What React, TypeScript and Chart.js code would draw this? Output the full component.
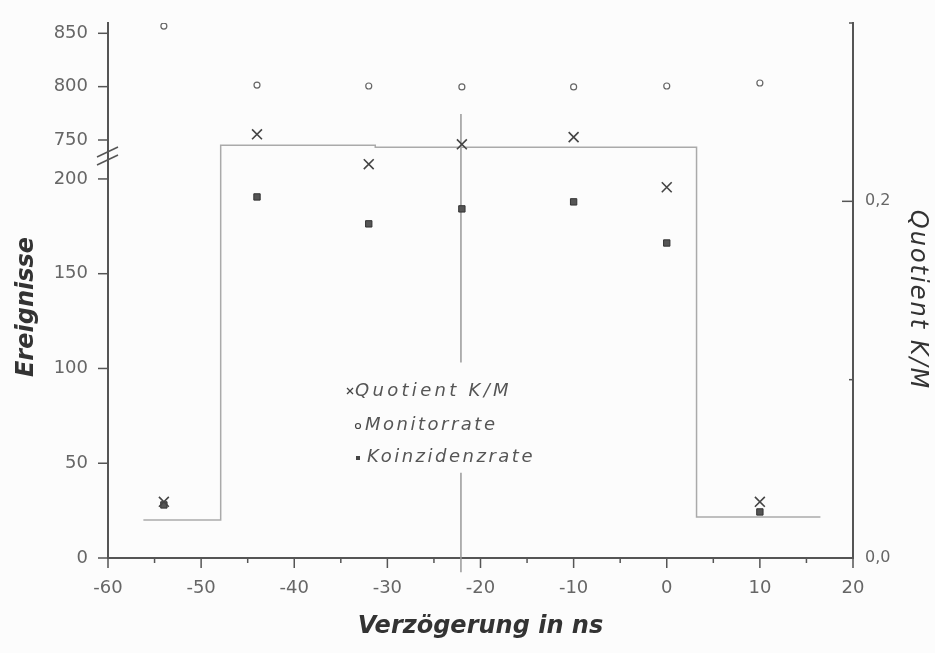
import React, { useEffect, useRef } from 'react';
import { Chart, registerables } from 'chart.js';

Chart.register(...registerables);

// ---- data ----
const DELAYS = [-54, -44, -32, -22, -10, 0, 10];
const MONITORRATE = [856.8, 801.5, 800.6, 799.7, 799.7, 800.6, 803.4];
const KOINZIDENZRATE = [28, 190.5, 176.3, 184.2, 187.9, 166.2, 24.3];
const QUOTIENT = [0.0315, 0.2376, 0.2208, 0.232, 0.236, 0.2079, 0.0315];

const WINDOW_X = [-56.2, -47.9, -47.9, -31.3, -31.3, 3.2, 3.2, 16.5];
const WINDOW_Y = [0.0213, 0.0213, 0.2315, 0.2315, 0.2303, 0.2303, 0.023, 0.023];

const MARKER_X = -22.1;
const MARKER_Y: (number | null)[] = [0.249, 0.1096, null, 0.0478, -0.008];

const X_TICKS = [-60, -50, -40, -30, -20, -10, 0, 10, 20];
const X_MINOR = [-55, -45, -35, -25, -15, -5, 5, 15];
const LOW_TICKS = [0, 50, 100, 150, 200];
const HIGH_TICKS = [750, 800, 850];
const RIGHT_TICKS = [0, 0.2];
const RIGHT_MINOR = [0.1, 0.3];

const X_TITLE = 'Verzögerung in ns';
const Y_TITLE = 'Ereignisse';
const R_TITLE = 'Quotient K/M';
const LEGEND_LABELS = ['Quotient K/M', 'Monitorrate', 'Koinzidenzrate'];

const AXIS = '#555';
const TICK_TEXT = '#666';
const TITLE = '#333';

const zeroPad = (s: any) => {
  s.paddingTop = 0;
  s.paddingBottom = 0;
  s.paddingLeft = 0;
  s.paddingRight = 0;
};

const decor = {
  id: 'decor',
  afterDraw(chart: any) {
    const ctx = chart.ctx as CanvasRenderingContext2D;
    const { x, yLow, yHigh, yR } = chart.scales;
    const ca = chart.chartArea;
    const line = (x1: number, y1: number, x2: number, y2: number) => {
      ctx.beginPath();
      ctx.moveTo(x1, y1);
      ctx.lineTo(x2, y2);
      ctx.stroke();
    };
    ctx.save();
    ctx.strokeStyle = AXIS;
    ctx.lineWidth = 1.5;
    X_TICKS.forEach((v) => { const p = x.getPixelForValue(v); line(p, ca.bottom, p, ca.bottom + 10); });
    X_MINOR.forEach((v) => { const p = x.getPixelForValue(v); line(p, ca.bottom, p, ca.bottom + 5); });
    LOW_TICKS.forEach((v) => { const p = yLow.getPixelForValue(v); line(ca.left - 10, p, ca.left, p); });
    HIGH_TICKS.forEach((v) => { const p = yHigh.getPixelForValue(v); line(ca.left - 10, p, ca.left, p); });
    RIGHT_TICKS.forEach((v) => { const p = yR.getPixelForValue(v); line(ca.right - 11, p, ca.right, p); });
    RIGHT_MINOR.forEach((v) => { const p = yR.getPixelForValue(v); line(ca.right - 4, p, ca.right, p); });

    // axis break marks
    const b = yLow.top;
    line(ca.left - 11, b + 1, ca.left + 10, b - 9);
    line(ca.left - 11, b + 9, ca.left + 10, b - 1);

    // axis titles
    ctx.fillStyle = TITLE;
    ctx.textAlign = 'center';
    ctx.textBaseline = 'middle';
    ctx.font = 'italic bold 24px "DejaVu Sans"';
    ctx.fillText(X_TITLE, (ca.left + ca.right) / 2, ca.bottom + 69);

    ctx.save();
    ctx.translate(27, 307);
    ctx.rotate(-Math.PI / 2);
    ctx.fillText(Y_TITLE, 0, 0);
    ctx.restore();

    ctx.save();
    ctx.translate(917, 300);
    ctx.rotate(Math.PI / 2);
    ctx.font = 'italic 24px "DejaVu Sans"';
    (ctx as any).letterSpacing = '2px';
    ctx.fillText(R_TITLE, 0, 0);
    ctx.restore();

    // legend
    ctx.font = 'italic 18px "DejaVu Sans"';
    ctx.fillStyle = '#555';
    ctx.textAlign = 'left';
    const rows = [391, 425, 457];
    const textX = [355, 365, 367];
    const spacing = ['3.3px', '2.5px', '2.5px'];
    LEGEND_LABELS.forEach((t, i) => {
      (ctx as any).letterSpacing = spacing[i];
      ctx.fillText(t, textX[i], rows[i]);
    });
    (ctx as any).letterSpacing = '0px';
    ctx.strokeStyle = '#444';
    ctx.lineWidth = 1.2;
    line(347, rows[0] - 3, 353, rows[0] + 3);
    line(347, rows[0] + 3, 353, rows[0] - 3);
    ctx.beginPath();
    ctx.arc(358, rows[1] + 1, 2.5, 0, Math.PI * 2);
    ctx.stroke();
    ctx.fillStyle = '#444';
    ctx.fillRect(356, rows[2] - 1, 4, 4);
    ctx.restore();
  },
};

export default function App() {
  const ref = useRef<HTMLCanvasElement | null>(null);

  useEffect(() => {
    document.body.style.margin = '0';
    document.body.style.background = '#fcfcfc';
    const canvas = ref.current;
    if (!canvas) return;

    const pts = (ys: (number | null)[], xs: number[] | number) =>
      ys.map((y, i) => ({ x: Array.isArray(xs) ? xs[i] : xs, y }));

    const tickFont = { family: 'DejaVu Sans', size: 18 };

    const chart = new Chart(canvas, {
      type: 'scatter',
      data: {
        datasets: [
          {
            label: 'Quotient K/M',
            data: pts(QUOTIENT, DELAYS),
            yAxisID: 'yR',
            pointStyle: 'crossRot',
            pointRadius: 7,
            borderColor: '#444',
            backgroundColor: '#444',
            pointBorderWidth: 1.6,
            showLine: false,
          },
          {
            label: 'Monitorrate',
            data: pts(MONITORRATE, DELAYS),
            yAxisID: 'yHigh',
            pointStyle: 'circle',
            pointRadius: 3,
            borderColor: '#666',
            backgroundColor: '#fff',
            pointBorderWidth: 1.2,
            showLine: false,
          },
          {
            label: 'Koinzidenzrate',
            data: pts(KOINZIDENZRATE, DELAYS),
            yAxisID: 'yLow',
            pointStyle: 'rect',
            pointRadius: 4.5,
            borderColor: '#333',
            backgroundColor: '#555',
            pointBorderWidth: 1,
            showLine: false,
          },
          {
            label: 'window',
            data: pts(WINDOW_Y, WINDOW_X),
            yAxisID: 'yR',
            showLine: true,
            pointRadius: 0,
            borderColor: '#aaa',
            borderWidth: 1.5,
          },
          {
            label: 'marker',
            data: pts(MARKER_Y, MARKER_X),
            yAxisID: 'yR',
            showLine: true,
            spanGaps: false,
            pointRadius: 0,
            borderColor: '#999',
            borderWidth: 1.5,
            clip: false,
          },
        ],
      } as any,
      options: {
        responsive: false,
        animation: false,
        events: [],
        layout: { padding: { top: 23, left: 0, right: 0, bottom: 0 }, autoPadding: false },
        plugins: { legend: { display: false }, tooltip: { enabled: false } },
        scales: {
          x: {
            type: 'linear',
            position: 'bottom',
            min: -60,
            max: 20,
            afterBuildTicks: (s: any) => { s.ticks = X_TICKS.map((value) => ({ value })); },
            afterFit: (s: any) => { s.height = 95; zeroPad(s); },
            grid: { display: false, drawTicks: false },
            border: { display: true, color: AXIS, width: 2 },
            ticks: { font: tickFont, color: TICK_TEXT, padding: 20, maxRotation: 0 },
          },
          yLow: {
            type: 'linear',
            position: 'left',
            stack: 'left',
            stackWeight: 402,
            min: 0,
            max: 212.1,
            afterBuildTicks: (s: any) => { s.ticks = LOW_TICKS.map((value) => ({ value })); },
            afterFit: (s: any) => { s.width = 108; zeroPad(s); },
            grid: { display: false, drawTicks: false },
            border: { display: true, color: AXIS, width: 2 },
            ticks: { font: tickFont, color: TICK_TEXT, padding: 20 },
          },
          yHigh: {
            type: 'linear',
            position: 'left',
            stack: 'left',
            stackWeight: 133,
            min: 735,
            max: 859.65,
            afterBuildTicks: (s: any) => { s.ticks = HIGH_TICKS.map((value) => ({ value })); },
            afterFit: (s: any) => { s.width = 108; zeroPad(s); },
            grid: { display: false, drawTicks: false },
            border: { display: true, color: AXIS, width: 2 },
            ticks: { font: tickFont, color: TICK_TEXT, padding: 20 },
          },
          yR: {
            type: 'linear',
            position: 'right',
            min: 0,
            max: 0.3,
            afterBuildTicks: (s: any) => { s.ticks = RIGHT_TICKS.map((value) => ({ value })); },
            afterFit: (s: any) => { s.width = 82; zeroPad(s); },
            grid: { display: false, drawTicks: false },
            border: { display: true, color: AXIS, width: 2 },
            ticks: {
              font: { family: 'DejaVu Sans', size: 16 },
              color: TICK_TEXT,
              padding: 12,
              callback: (v: any) => Number(v).toFixed(1).replace('.', ','),
            },
          },
        },
      } as any,
      plugins: [decor],
    });

    return () => chart.destroy();
  }, []);

  return <canvas ref={ref} width={935} height={653} style={{ display: 'block' }} />;
}
